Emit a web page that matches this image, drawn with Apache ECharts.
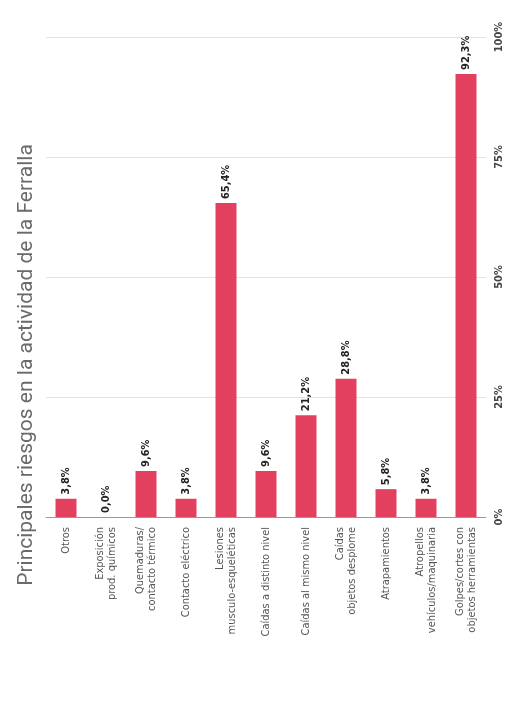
<!DOCTYPE html>
<html>
<head>
<meta charset="utf-8">
<script src="https://cdn.jsdelivr.net/npm/echarts@6/dist/echarts.min.js"></script>
<style>
html,body{margin:0;padding:0;background:#fff;}
#chart{width:511px;height:718px;}
</style>
</head>
<body>
<div id="chart"></div>
<script>
const titleText = 'Principales riesgos en la actividad de la Ferralla';
const categories = [
  'Otros',
  'Exposición\nprod. químicos',
  'Quemaduras/\ncontacto térmico',
  'Contacto eléctrico',
  'Lesiones\nmusculo-esqueléticas',
  'Caídas a distinto nivel',
  'Caídas al mismo nivel',
  'Caídas\nobjetos desplome',
  'Atrapamientos',
  'Atropellos\nvehículos/maquinaria',
  'Golpes/cortes con\nobjetos herramientas'
];
const values = [3.8, 0.0, 9.6, 3.8, 65.4, 9.6, 21.2, 28.8, 5.8, 3.8, 92.3];
const axisTicks = [0, 25, 50, 75, 100];

const chart = echarts.init(document.getElementById('chart'), null, {renderer: 'canvas'});
const condensed = '"Liberation Sans Narrow", "DejaVu Sans Condensed", Roboto, sans-serif';
chart.setOption({
  backgroundColor: '#ffffff',
  animation: false,
  grid: {left: 46, right: 25, top: 37, bottom: 201, containLabel: false},
  graphic: [{
    type: 'text',
    x: 27, y: 365,
    rotation: Math.PI / 2,
    style: {
      text: titleText,
      fill: '#6a6a6a',
      font: '21px Roboto, sans-serif',
      textAlign: 'center',
      textVerticalAlign: 'middle'
    }
  }],
  xAxis: {
    type: 'category',
    data: categories,
    axisLine: {show: true, lineStyle: {color: '#9a9a9a', width: 1}},
    axisTick: {show: false},
    axisLabel: {
      interval: 0,
      rotate: 90,
      margin: 10,
      fontSize: 11,
      lineHeight: 12,
      color: '#555',
      fontFamily: condensed
    }
  },
  yAxis: {
    type: 'value',
    position: 'right',
    min: axisTicks[0],
    max: axisTicks[axisTicks.length - 1],
    interval: 25,
    axisLine: {show: false},
    axisTick: {show: false},
    splitLine: {show: true, lineStyle: {color: '#e2e2e2', width: 1}},
    axisLabel: {
      rotate: 90,
      margin: 8,
      fontSize: 11,
      fontWeight: 'bold',
      color: '#444',
      fontFamily: condensed,
      align: 'center',
      verticalAlign: 'top',
      formatter: v => v + '%'
    }
  },
  series: [{
    type: 'bar',
    data: values,
    barWidth: 21,
    itemStyle: {color: '#e2405e'},
    label: {
      show: true,
      position: 'top',
      rotate: 90,
      align: 'left',
      verticalAlign: 'middle',
      distance: 4,
      fontSize: 11,
      fontWeight: 'bold',
      color: '#222',
      fontFamily: condensed,
      formatter: p => p.value.toFixed(1).replace('.', ',') + '%'
    }
  }]
});
</script>
</body>
</html>
